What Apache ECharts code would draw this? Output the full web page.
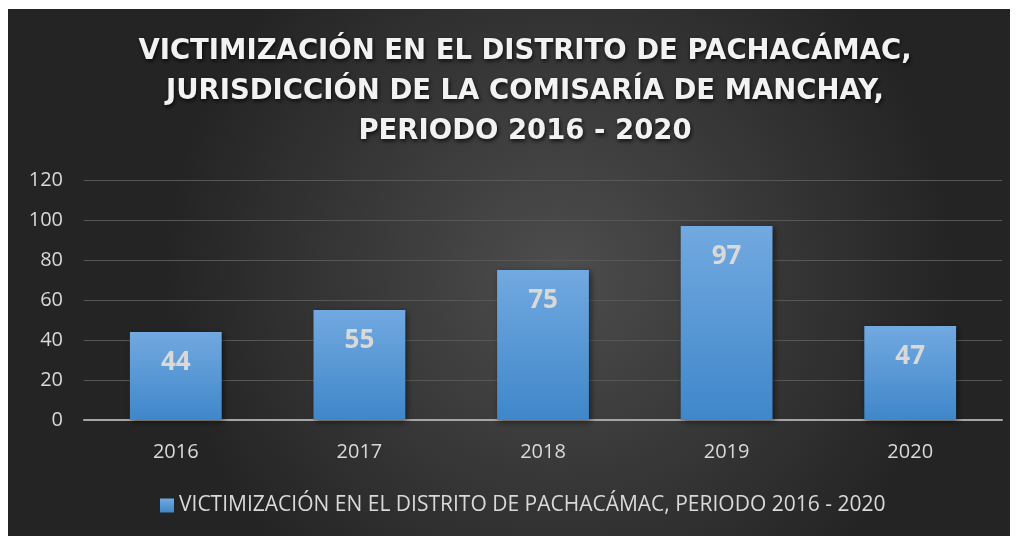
<!DOCTYPE html>
<html>
<head>
<meta charset="utf-8">
<script src="https://cdn.jsdelivr.net/npm/echarts@6/dist/echarts.min.js"></script>
<style>
html,body{margin:0;padding:0;background:#ffffff;width:1017px;height:536px;overflow:hidden;}
#chart{position:absolute;left:8px;top:9px;width:1002px;height:527px;}
</style>
</head>
<body>
<div id="chart"></div>
<script>
const titleText = "VICTIMIZACIÓN EN EL DISTRITO DE PACHACÁMAC,\nJURISDICCIÓN DE LA COMISARÍA DE MANCHAY,\nPERIODO 2016 - 2020";
const categories = ["2016", "2017", "2018", "2019", "2020"];
const seriesName = "VICTIMIZACIÓN EN EL DISTRITO DE PACHACÁMAC, PERIODO 2016 - 2020";
const values = [44, 55, 75, 97, 47];
const yMin = 0, yMax = 120, yInterval = 20;

const barGradient = new echarts.graphic.LinearGradient(0, 0, 0, 1, [
  {offset: 0, color: '#72a9e0'},
  {offset: 1, color: '#3f87ca'}
]);

const chart = echarts.init(document.getElementById('chart'), null, {renderer: 'canvas'});
chart.setOption({
  backgroundColor: new echarts.graphic.RadialGradient(0.55, 0.5, 0.75, [
    {offset: 0, color: '#4d4d4d'},
    {offset: 1, color: '#242424'}
  ]),
  animation: false,
  title: {
    text: titleText,
    left: 512,
    textAlign: 'center',
    top: 18,
    textStyle: {
      fontFamily: 'DejaVu Sans',
      fontWeight: 'bold',
      fontSize: 27.5,
      lineHeight: 40,
      color: '#f2f2f2',
      textShadowColor: 'rgba(0,0,0,0.8)',
      textShadowBlur: 4,
      textShadowOffsetX: 1,
      textShadowOffsetY: 2
    }
  },
  grid: {left: 76, right: 8, top: 171, bottom: 116, containLabel: false},
  xAxis: {
    type: 'category',
    data: categories,
    axisLine: {show: true, lineStyle: {color: '#a6a6a6', width: 2}},
    axisTick: {show: false},
    axisLabel: {color: '#d9d9d9', fontFamily: 'Open Sans', fontSize: 20, margin: 22}
  },
  yAxis: {
    type: 'value',
    min: yMin, max: yMax, interval: yInterval,
    axisLine: {show: false},
    axisTick: {show: false},
    axisLabel: {color: '#d9d9d9', fontFamily: 'Open Sans', fontSize: 20, margin: 21},
    splitLine: {lineStyle: {color: '#575757', width: 1}}
  },
  legend: {
    data: [seriesName],
    bottom: 15,
    left: 147,
    icon: 'rect',
    itemWidth: 14,
    itemHeight: 14,
    itemGap: 6,
    textStyle: {color: '#d9d9d9', fontFamily: 'Open Sans', fontSize: 21}
  },
  series: [{
    name: seriesName,
    type: 'bar',
    data: values,
    barWidth: '50%',
    itemStyle: {
      color: barGradient,
      shadowColor: 'rgba(0,0,0,0.5)',
      shadowBlur: 6,
      shadowOffsetX: 2,
      shadowOffsetY: 2
    },
    label: {
      show: true,
      position: 'insideTop',
      distance: 18,
      color: '#d9d9d9',
      fontFamily: 'Open Sans',
      fontWeight: 'bold',
      fontSize: 26
    }
  }]
});
</script>
</body>
</html>
